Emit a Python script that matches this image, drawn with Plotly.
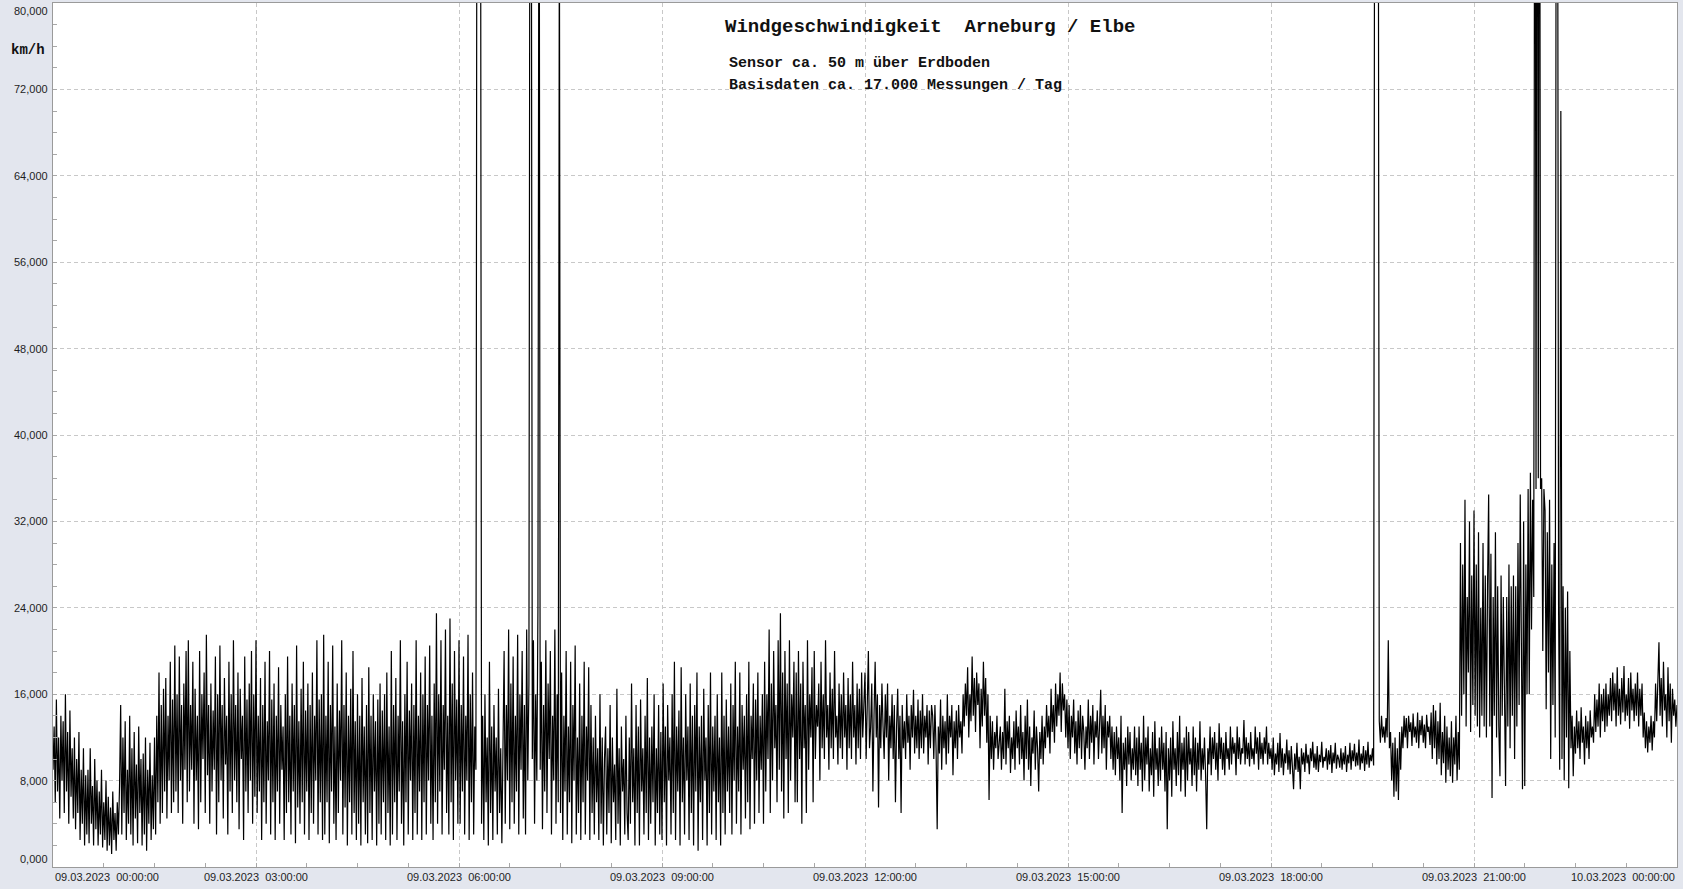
import pandas as pd
import plotly.graph_objects as go

# Wind speed (km/h), one value per minute
h00 = [9, 13, 6, 15.5, 7, 12, 4.5, 14, 8, 13.5,
       5, 16, 7, 12.5, 4, 14.5, 6.5, 11, 4.5, 12,
       3.5, 10, 5, 12.5, 2.5, 9, 4, 11, 2, 8.5,
       3, 9, 2.2, 11, 4, 7.5, 2, 10, 3.5, 8,
       2, 7, 3, 9, 1.8, 6, 2.5, 8, 1.5, 6.5,
       2, 5.5, 1.2, 7, 2.5, 5, 1.5, 6, 3, 7.5]
h01 = [15, 3, 12, 5, 13.5, 2.5, 9, 4, 14, 3,
       11, 2, 12.5, 4.5, 9.5, 2.2, 13, 5, 10, 2,
       10.5, 3, 12, 1.5, 9, 4, 11.5, 2.5, 8.5, 3.5,
       12, 3, 14, 6, 18, 4, 15, 5, 16.5, 7,
       17.5, 4.5, 14, 8, 19, 5, 15.5, 6, 20.5, 7,
       16, 5, 19.5, 8, 15, 4, 17, 9, 20, 6]
h02 = [21, 7, 15, 9, 19, 4, 16.5, 8, 14, 3.5,
       20, 6, 16, 10, 18, 5, 21.5, 8.5, 15, 4,
       17, 7, 14.5, 9, 19.5, 3, 16, 6, 20.5, 8,
       15, 4.5, 17.5, 9.5, 14, 3, 19, 7, 16, 5,
       21, 8, 15, 6, 18, 3.5, 16.5, 10, 14, 2.5,
       19.5, 7, 15.5, 5, 17, 8, 20, 4, 16, 6.5]
h03 = [21, 5, 14, 7, 17.5, 2.5, 15, 6, 19, 4,
       13.5, 8, 20, 3, 15.5, 6, 17, 2.5, 14, 7,
       18.5, 4, 15, 9, 13, 2.5, 16, 5, 19.5, 6,
       14, 3, 17, 7, 15, 2.2, 20.5, 5.5, 13.5, 4,
       16.5, 6, 19, 3, 14.5, 7, 17, 2.5, 15, 5,
       18, 4, 14, 8, 21, 3, 15.5, 6, 16, 2.5]
h04 = [21.5, 3, 14, 6, 19, 2.2, 15, 7, 20.5, 4,
       13, 2.5, 17, 5, 14.5, 8, 21, 3, 15, 5.5,
       18, 2, 14, 6, 16.5, 3, 20, 5, 13.5, 2.5,
       16, 4, 14, 2, 17.5, 6, 13, 3, 15, 2.2,
       18.5, 5, 14, 2.5, 16, 7, 13.5, 2, 15.5, 4,
       17, 3, 14.5, 6, 16, 2.5, 18, 5, 13, 2]
h05 = [20, 3, 15, 6, 17.5, 2.5, 14, 7, 21, 4,
       13.5, 2, 16, 6, 19, 3, 14.5, 8, 17, 2.5,
       15, 5, 21, 3, 14, 7, 18, 2.5, 16, 6,
       19.5, 3, 15, 8, 20.5, 4, 14, 2.5, 17, 6,
       23.5, 4, 16, 7, 21, 3, 15, 9, 22, 5,
       14, 3, 23, 6, 17, 2.5, 20, 8, 15.5, 4]
h06 = [21, 4, 15, 7, 19.5, 3, 14, 8, 21.5, 2.5,
       16, 6, 18, 3, 13, 9, 110, 110, 110, 110,
       4, 14, 2.5, 16, 6, 12, 2, 19, 5, 13,
       2.5, 15, 7, 12, 3, 16.5, 5, 11, 2.2, 14,
       20, 4, 15, 8, 22, 3.5, 17, 6, 19.5, 4,
       14, 7, 21.5, 3, 16, 9, 20, 4.5, 15, 3]
h07 = [22, 8, 17, 110, 110, 10, 21, 4, 16, 8,
       24, 110, 9, 19, 3.5, 15, 7, 21, 5, 17,
       10, 20, 3, 14, 8, 22, 4, 16, 6, 90,
       5, 18, 2.5, 14, 7, 20, 3, 13, 6, 19,
       2.2, 15, 8, 20.5, 3, 12, 5, 17, 2.5, 14,
       6, 19, 3, 13, 8, 18.5, 2.5, 15, 5, 12]
h08 = [3, 14, 6, 11, 2.5, 16, 4, 12, 2, 10,
       13, 3, 11, 5, 15, 2.2, 12, 6, 9.5, 2.5,
       16.5, 4, 11, 2, 13, 7, 10, 3, 14, 5,
       2.5, 12, 4, 17, 6, 11, 2, 15, 5, 13,
       2, 15.5, 7, 11, 3, 14, 5, 17.5, 2.5, 12,
       4, 13, 6, 16, 2, 11, 5, 15, 3, 12.5]
h09 = [2.5, 17, 6, 13, 2, 15, 8, 12, 3, 16,
       5, 19, 2.5, 13, 7, 14.5, 2, 18.5, 6, 12,
       3, 16, 8, 13, 2.5, 17, 5, 14, 2, 15,
       7, 18, 1.5, 13, 6, 14, 2.5, 16.5, 8, 12,
       2, 15, 5, 18, 3, 13, 7, 14, 2.5, 16,
       6, 12, 2, 18, 5, 14, 3, 15.5, 7, 13]
h10 = [5, 17, 3, 15, 8, 19, 4, 13, 7, 18,
       3, 15, 9, 14, 4.5, 16, 6, 19, 3.5, 14,
       10, 17, 4, 15.5, 8, 18, 5, 14, 9, 16,
       4, 19, 7, 16, 10, 22, 5, 17, 8, 20,
       11, 15, 6, 21, 9, 23.5, 7, 18, 4.5, 20,
       10, 17, 5, 21, 8, 16, 12, 19, 6, 18]
h11 = [6, 20, 10, 17, 4, 19, 11, 15, 5, 21,
       9, 16, 12, 18.5, 6, 20, 10, 15, 13, 17,
       8, 19, 11, 16, 10, 21, 12, 15, 9, 18,
       11, 16.5, 10, 20, 12, 14, 9.5, 17, 11, 16,
       10, 18, 12, 15, 9, 17.5, 11, 16, 10, 19,
       12, 15, 9.5, 17, 11, 16.5, 10, 18, 12, 15]
h12 = [18, 10, 15, 20, 11, 13, 17, 7, 14, 19,
       12, 16, 5.5, 15, 11, 17, 13, 10, 16, 12,
       17, 8, 14, 11, 16, 10, 15, 6, 13, 16.5,
       10, 14, 5, 15, 11, 13.5, 10, 16, 11.5, 14,
       9, 15, 12, 16.4, 10.5, 14, 11, 15.5, 10, 14.5,
       11, 16, 10.5, 14, 12, 15, 9.5, 14.5, 11, 15]
h13 = [14, 10, 15, 11, 3.5, 13, 10.5, 15.5, 9, 14,
       11, 13.5, 9.5, 16, 10.5, 14, 12, 15, 8.5, 13.5,
       11, 14.5, 10, 15, 12, 13.5, 10.5, 16, 13, 17,
       14, 18.5, 12, 16, 13.5, 19.5, 14, 17.5, 12.5, 18,
       15, 17, 11, 16.5, 13, 19, 14, 17.5, 11.5, 16,
       6.2, 14, 10, 13.5, 9, 12.5, 11, 14, 10, 12]
h14 = [13, 9, 12.5, 10, 16.5, 9.5, 13.5, 11, 14, 8.7,
       12, 10, 13.5, 9, 14.5, 11, 13, 9.5, 15, 10,
       12.5, 8, 14, 10, 15.5, 9, 13, 7.5, 12, 10.5,
       14.5, 9, 13, 11, 7, 12.5, 10, 14, 9.5, 13,
       11, 15, 12, 14, 10.5, 16.5, 12.5, 15, 11.5, 17,
       13, 16, 14, 18, 12.5, 17, 14.5, 16, 12, 15.5]
h15 = [11, 15, 10, 14, 12, 15.5, 10.5, 13.5, 9.5, 14.5,
       11, 15, 10, 14, 12.5, 9, 13, 11, 15.5, 10,
       14, 11.5, 15, 9.5, 13.5, 12, 14.5, 10, 13, 16.4,
       10.5, 14, 11, 15, 9, 13.5, 12, 14, 10, 13,
       9, 12.5, 8.5, 13, 10, 12, 8, 14, 5, 11.5,
       9, 12, 7.5, 13, 9.5, 12.5, 8, 11, 9, 13]
h16 = [8.5, 12, 7.5, 13, 9, 11.5, 7, 14, 8, 12,
       9.5, 13, 7, 11, 8.5, 12.5, 6.5, 13.5, 9, 11,
       7.5, 12, 8, 13, 9, 11.5, 7, 12.5, 3.5, 11,
       8, 12, 6.5, 13.5, 9, 11, 7.5, 12.5, 8.5, 14,
       7, 11.5, 9, 12, 6.5, 13, 8, 12.5, 9.5, 11,
       7.5, 13, 8.5, 12, 7, 11.5, 9, 13.5, 8, 11]
h17 = [9, 12, 8.5, 3.5, 11, 9.5, 13, 8.5, 12, 10,
       12.5, 9, 11.5, 8, 13.3, 10, 12, 9, 11.5, 8.5,
       12.5, 10, 11, 9, 13, 9.5, 12, 10.5, 11.5, 8.5,
       13, 10, 12, 9.5, 11, 10.5, 13.6, 9.5, 12, 10,
       11.5, 9.3, 12.5, 10, 11, 9.5, 13, 10.5, 12, 9,
       12.5, 10, 11.5, 9.5, 12, 10.5, 13, 9.5, 11.5, 10]
h18 = [11, 9, 12, 8.5, 10.5, 9.5, 11.5, 8.8, 12.4, 9.2,
       11, 8.5, 10.5, 9.6, 11.8, 9, 10.8, 8.6, 11.2, 9.4,
       7.2, 10.5, 9, 11.5, 8.8, 10.2, 7.2, 11, 9.5, 10.6,
       8.8, 11.4, 9.6, 10.4, 8.6, 11, 9.8, 11.6, 9.2, 10.5,
       9, 11.2, 8.8, 10.4, 9.7, 11.6, 9.2, 10.2, 9.8, 11,
       9, 10.8, 9.5, 11.3, 8.7, 10.6, 9.6, 11.5, 9.1, 10.4]
h19 = [10, 9.2, 11, 9, 10.6, 9.5, 11.2, 8.8, 10.4, 9.6,
       11.5, 9, 10.8, 9.8, 11.4, 9.3, 10.6, 9.4, 11.8, 9,
       10.5, 9.6, 11.2, 8.9, 10.8, 9.5, 11.6, 9.2, 10.4, 9.8,
       11, 9.4, 110, 110, 110, 110, 13.5, 11.5, 14, 12,
       13, 11.5, 13.8, 12, 21, 11, 12.5, 8, 11.5, 6.5,
       12, 7, 11, 6.2, 12.5, 9, 13, 11, 14, 12]
h20 = [13.8, 11, 14, 12.5, 13.4, 11.2, 14.2, 12, 13, 11.5,
       14.3, 11, 13.6, 12.2, 14, 11.5, 13.2, 11, 14.1, 12.5,
       13, 11.3, 14.3, 10, 15, 11, 14.5, 9.5, 13.5, 10,
       15.2, 8.5, 12.5, 9.6, 14, 7.8, 13, 9, 12, 8.4,
       13.5, 7.8, 12, 9.5, 14, 8, 12.5, 9, 30, 14,
       28, 16, 34, 13, 25, 18, 32, 12.5, 27, 15]
h21 = [33, 14, 28, 13, 31, 12, 24, 14, 30, 13,
       27, 12, 26, 34.5, 13, 29, 6.4, 25, 14, 31,
       12, 26, 13, 8.4, 27, 14, 25, 12, 7.5, 25,
       13, 28, 11, 26, 14, 27, 10, 26, 13, 30,
       15, 34.5, 14, 7.2, 32, 7.5, 28, 16, 35, 16,
       36.5, 22, 34, 25, 130, 35, 130, 36, 130, 35]
h22 = [36, 20, 35, 33, 14.6, 31, 18, 34, 10, 28,
       15, 30, 12, 110, 110, 24, 9, 70, 10, 26,
       8, 24, 12, 25.5, 7.3, 20, 11, 14, 8.4, 13,
       10.5, 14.5, 11, 13.5, 10, 14.8, 11.5, 13, 9.5, 14,
       11, 13.5, 10, 14.5, 12, 13, 11.5, 16, 12.5, 15.5,
       13, 17, 12, 16, 13.5, 16.5, 12.5, 17, 13, 16]
h23 = [14, 17.5, 13.5, 18, 14.5, 17, 13, 18.5, 14, 16.5,
       13.2, 17.5, 14.3, 18.6, 13.5, 16, 14, 17.5, 12.8, 18,
       14.5, 16.5, 13.5, 17, 14, 18, 13, 16.5, 14, 17,
       12, 14.3, 11, 13.5, 10.6, 13, 11.5, 14, 10.8, 13.5,
       12, 17, 13.5, 18.5, 20.8, 14, 17.5, 13, 19, 14.5,
       16, 12, 18.5, 13.5, 17, 11.5, 16.5, 14, 15.5, 13]
h24 = [15]

hourly = [h00, h01, h02, h03, h04, h05, h06, h07, h08, h09, h10, h11,
          h12, h13, h14, h15, h16, h17, h18, h19, h20, h21, h22, h23, h24]
speed = [v for block in hourly for v in block]
times = pd.date_range("2023-03-09 00:00", periods=len(speed), freq="1min")

y_ticks = [0, 8, 16, 24, 32, 40, 48, 56, 64, 72, 80]
y_tick_labels = ["0,000", "8,000", "16,000", "24,000", "32,000", "40,000",
                 "48,000", "56,000", "64,000", "72,000", "80,000"]
x_ticks = ["2023-03-09 00:00", "2023-03-09 03:00", "2023-03-09 06:00", "2023-03-09 09:00",
           "2023-03-09 12:00", "2023-03-09 15:00", "2023-03-09 18:00", "2023-03-09 21:00",
           "2023-03-10 00:00"]
x_tick_labels = ["09.03.2023\u00a0 00:00:00", "09.03.2023\u00a0 03:00:00", "09.03.2023\u00a0 06:00:00",
                 "09.03.2023\u00a0 09:00:00", "09.03.2023\u00a0 12:00:00", "09.03.2023\u00a0 15:00:00",
                 "09.03.2023\u00a0 18:00:00", "09.03.2023\u00a0 21:00:00", "10.03.2023\u00a0 00:00:00"]

title_text = "Windgeschwindigkeit\u00a0 Arneburg / Elbe"
sub1_text = "Sensor ca. 50 m über Erdboden"
sub2_text = "Basisdaten ca. 17.000 Messungen / Tag"
unit_text = "km/h"

mono = "Liberation Mono, Courier New, monospace"
sans = "Liberation Sans, Arial, sans-serif"
paper = "#e3e6ee"
grid = "#c8c8c8"
tickc = "#a8a8a8"

fig = go.Figure(go.Scatter(x=times, y=speed, mode="lines",
                           line=dict(color="black", width=1.2), hoverinfo="skip"))

fig.update_layout(width=1683, height=889, margin=dict(l=53, r=6, t=3, b=22),
                  paper_bgcolor=paper, plot_bgcolor="white", showlegend=False)

fig.update_xaxes(range=[x_ticks[0], x_ticks[-1]], tickmode="array", tickvals=x_ticks,
                 showticklabels=False, showgrid=True, gridcolor=grid, gridwidth=1,
                 griddash="4px,3px", showline=True, linecolor="#9a9a9a", linewidth=1,
                 mirror=True, ticks="inside", ticklen=4, tickcolor=tickc, zeroline=False,
                 minor=dict(tickmode="linear", tick0="2023-03-09 00:00", dtick=45 * 60 * 1000,
                            ticks="inside", ticklen=4, tickcolor=tickc, showgrid=False))
fig.update_yaxes(range=[0, 80], tickmode="array", tickvals=y_ticks, showticklabels=False,
                 showgrid=True, gridcolor=grid, gridwidth=1, griddash="4px,3px",
                 showline=True, linecolor="#9a9a9a", linewidth=1, mirror=True,
                 ticks="inside", ticklen=4, tickcolor=tickc, zeroline=False,
                 minor=dict(tickmode="linear", tick0=0, dtick=2, ticks="inside",
                            ticklen=4, tickcolor=tickc, showgrid=False))

# white box behind the title block
fig.add_shape(type="rect", xref="paper", yref="paper", x0=0.4064, x1=0.6724, y0=0.8924, y1=0.9942,
              fillcolor="white", line=dict(width=0), layer="between")

ann = []
for v, lab in zip(y_ticks, y_tick_labels):
    anchor = "middle"
    if v == y_ticks[-1]:
        anchor = "top"
    elif v == y_ticks[0]:
        anchor = "bottom"
    ann.append(dict(x=0, xref="paper", y=v, yref="y", text=lab, showarrow=False,
                    xanchor="right", yanchor=anchor, xshift=-3,
                    font=dict(family=sans, size=11, color="#1e1e1e")))
for i, (t, lab) in enumerate(zip(x_ticks, x_tick_labels)):
    xa = "center"
    if i == 0:
        xa = "left"
    elif i == len(x_ticks) - 1:
        xa = "right"
    ann.append(dict(x=t, xref="x", y=0, yref="paper", text=lab, showarrow=False,
                    xanchor=xa, yanchor="top", yshift=-2,
                    font=dict(family=sans, size=11, color="#1e1e1e")))
ann.append(dict(x=0, xref="paper", y=0.9456, yref="paper", text="<b>" + unit_text + "</b>",
                showarrow=False, xanchor="right", yanchor="middle", xshift=-6,
                font=dict(family=mono, size=14, color="#111111")))
ann.append(dict(x=0.4126, xref="paper", y=0.9722, yref="paper", text="<b>" + title_text + "</b>",
                showarrow=False, xanchor="left", yanchor="middle",
                font=dict(family=mono, size=19, color="#111111")))
ann.append(dict(x=0.415, xref="paper", y=0.9294, yref="paper", text="<b>" + sub1_text + "</b>",
                showarrow=False, xanchor="left", yanchor="middle",
                font=dict(family=mono, size=15, color="#111111")))
ann.append(dict(x=0.415, xref="paper", y=0.905, yref="paper", text="<b>" + sub2_text + "</b>",
                showarrow=False, xanchor="left", yanchor="middle",
                font=dict(family=mono, size=15, color="#111111")))
fig.update_layout(annotations=ann)

fig.write_html("out.html", config={"displayModeBar": False},
               post_script="document.body.style.margin='0';document.body.style.background='" + paper + "';")
